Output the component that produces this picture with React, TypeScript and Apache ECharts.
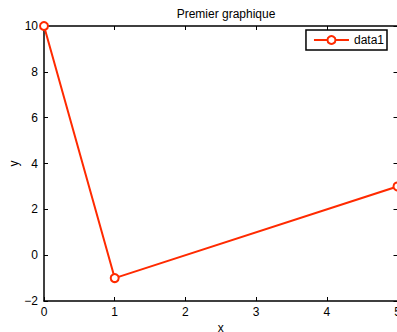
import React, { useEffect, useRef } from "react";
import * as echarts from "echarts";

const xValues = [0, 1, 5];
const yValues = [10, -1, 3];
const seriesName = "data1";
const titleText = "Premier graphique";
const xLabel = "x";
const yLabel = "y";

const FONT = "Liberation Sans, Arial, Helvetica, sans-serif";
const RED = "#ff2a00";

export default function App() {
  const ref = useRef<HTMLDivElement>(null);
  useEffect(() => {
    if (!ref.current) return;
    const chart = echarts.init(ref.current, null, { renderer: "svg" });
    const fmt = (v: number) => String(v).replace("-", "\u2212");
    const axisLine = { show: true, onZero: false, lineStyle: { color: "#000", width: 1.5 } };
    const tick = { show: true, inside: true, length: 4, lineStyle: { color: "#000", width: 1 } };
    chart.setOption({
      animation: false,
      backgroundColor: "#fff",
      textStyle: { fontFamily: FONT },
      title: {
        text: titleText,
        left: 221,
        top: 3,
        textAlign: "center",
        textStyle: { fontFamily: FONT, fontSize: 12, fontWeight: "normal", color: "#000" },
      },
      grid: { left: 44, right: -0.5, top: 26, bottom: 31, containLabel: false, outerBoundsMode: "none" },
      legend: {
        data: [seriesName],
        right: 10,
        top: 30,
        borderColor: "#000",
        borderWidth: 1.5,
        padding: [4, 3, 4, 7],
        itemWidth: 35,
        itemHeight: 10,
        textStyle: { fontFamily: FONT, fontSize: 12, color: "#000" },
        backgroundColor: "#fff",
      },
      xAxis: [
        {
          type: "value",
          min: 0,
          max: 5,
          interval: 1,
          position: "bottom",
          name: xLabel,
          nameLocation: "middle",
          nameGap: 21,
          nameMoveOverlap: false,
          nameTextStyle: { fontFamily: FONT, fontSize: 12, color: "#000" },
          axisLine,
          axisTick: tick,
          axisLabel: { color: "#000", fontSize: 12, fontFamily: FONT, margin: 5, formatter: fmt },
          splitLine: { show: false },
        },
        {
          type: "value",
          min: 0,
          max: 5,
          interval: 1,
          position: "top",
          axisLine,
          axisTick: tick,
          axisLabel: { show: false },
          splitLine: { show: false },
        },
      ],
      yAxis: [
        {
          type: "value",
          min: -2,
          max: 10,
          interval: 2,
          position: "left",
          name: yLabel,
          nameLocation: "middle",
          nameGap: 24,
          nameRotate: 90,
          nameMoveOverlap: false,
          nameTextStyle: { fontFamily: FONT, fontSize: 12, color: "#000" },
          axisLine,
          axisTick: tick,
          axisLabel: { color: "#000", fontSize: 12, fontFamily: FONT, margin: 6, formatter: fmt },
          splitLine: { show: false },
        },
        {
          type: "value",
          min: -2,
          max: 10,
          interval: 2,
          position: "right",
          axisLine,
          axisTick: tick,
          axisLabel: { show: false },
          splitLine: { show: false },
        },
      ],
      series: [
        {
          name: seriesName,
          type: "line",
          data: xValues.map((x, i) => [x, yValues[i]]),
          symbol: "circle",
          symbolSize: 8,
          showAllSymbol: true,
          clip: false,
          lineStyle: { color: RED, width: 2 },
          itemStyle: { color: "#fff", borderColor: RED, borderWidth: 2 },
          z: 5,
        },
      ],
    });
    return () => chart.dispose();
  }, []);
  return (
    <div
      ref={ref}
      style={{ position: "fixed", left: 0, top: 0, width: 397, height: 332 }}
    />
  );
}
